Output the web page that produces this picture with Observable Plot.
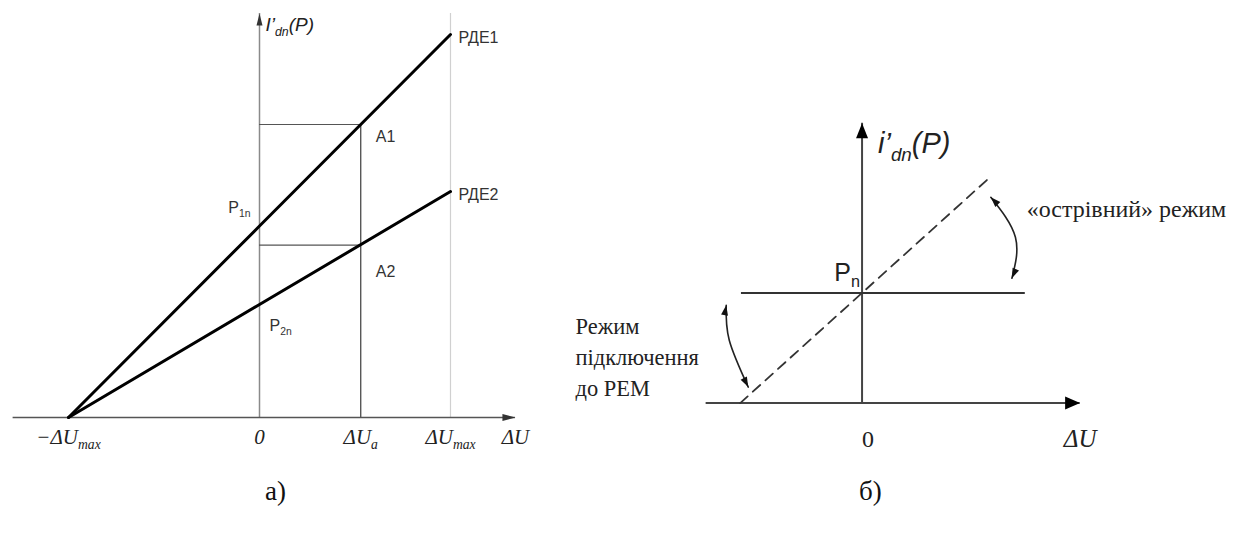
<!DOCTYPE html>
<html><head><meta charset="utf-8">
<script src="https://cdn.jsdelivr.net/npm/d3@7"></script>
<script src="https://cdn.jsdelivr.net/npm/@observablehq/plot@0.6"></script>
<style>
body{margin:0;background:#fff;}
#fig{position:relative;width:1249px;height:543px;overflow:hidden;background:#fff}
#a{position:absolute;left:0;top:0}
#b{position:absolute;left:550px;top:100px}
.cap{position:absolute;font-family:"Liberation Serif",serif;font-size:27px;top:476px;color:#111}
</style></head><body>
<div id="fig"><div id="a"></div><div id="b"></div>
<div class="cap" style="left:265px">а)</div><div class="cap" style="left:859px">б)</div></div>
<script>
// ---------- Panel а) data ----------
const uA = [-1, 0, 1];                       // −ΔUmax, 0, ΔUmax
const rde1 = [0, 1, 2];                      // РДЕ1 (P1n = 1 at ΔU = 0)
const rde2 = [0, 0.59, 1.18];                // РДЕ2 (P2n = 0.59 at ΔU = 0)
const seriesNamesA = ["РДЕ1", "РДЕ2"];
const Ua = 0.53;                             // ΔUa
const pointValuesA = [1.53, 0.90];           // A1, A2
const pointNamesA = ["A1", "A2"];
const interceptNamesA = ["P_{1n}", "P_{2n}"];
const xTicksA = [-1, 0, 0.53, 1, 1.34];
const xTickLabelsA = ["−ΔU_{max}", "0", "ΔU_{a}", "ΔU_{max}", "ΔU"];
const axisExtentA = {xMin: -1.29, xMax: 1.34, yMax: 2.11};

// ---------- Panel б) data ----------
const uDashB = [-1, 1.03];
const dashB = [0, 2.03];
const PnB = 1;
const PnSpanB = [-0.99, 1.34];
const axisExtentB = {xMin: -1.28, xMax: 1.79, yMax: 2.54};
const arcUpper = [[1.057, 1.868], [1.259, 1.505], [1.23, 1.133]];
const arcLower = [[-1.115, 0.888], [-1.09, 0.571], [-0.934, 0.145]];
const noteUpper = {x: 1.352, y: 1.686, text: "«острівний» режим"};
const noteLower = {x: -2.352, y: 0.83, text: "Режим\nпідключення\nдо РЕМ"};

function arrowHead(L, W) {
  return {draw(ctx) { ctx.moveTo(0, 0); ctx.lineTo(-W / 2, L); ctx.lineTo(W / 2, L); ctx.closePath(); }};
}
function subify(root) {
  d3.select(root).selectAll("text").each(function () {
    const t = this.textContent;
    if (!t.includes("_{")) return;
    const fs = parseFloat(getComputedStyle(this).fontSize);
    const parts = t.split(/(_\{[^}]*\})/).filter(s => s.length);
    this.textContent = "";
    let shifted = false;
    for (const p of parts) {
      const ts = d3.select(this).append("tspan");
      if (p.startsWith("_{")) { ts.text(p.slice(2, -1)).attr("font-size", fs * 0.65).attr("dy", fs * 0.26); shifted = true; }
      else { ts.text(p); if (shifted) { ts.attr("dy", -fs * 0.26); shifted = false; } }
    }
  });
}

// ---------- Panel а) ----------
const xA = {domain: [-1, 1], range: [68, 450], axis: null};
const yA = {domain: [0, 2], range: [417, 34], axis: null};
const linesA = [
  ...uA.map((u, i) => ({u, v: rde1[i], s: seriesNamesA[0]})),
  ...uA.map((u, i) => ({u, v: rde2[i], s: seriesNamesA[1]}))
];
const serif = "Liberation Serif";
const sans = "Liberation Sans";
const labelA = {lineAnchor: "bottom", textAnchor: "start", fontFamily: sans, fontSize: 16, fill: "#333"};
const plotA = Plot.plot({
  width: 540, height: 460, x: xA, y: yA,
  style: {background: "transparent", overflow: "visible"},
  marks: [
    Plot.ruleX([1], {y1: 0, y2: axisExtentA.yMax, stroke: "#d0d0d0", strokeWidth: 1.2}),
    Plot.ruleX([0], {y1: 0, y2: axisExtentA.yMax, stroke: "#8a8a8a", strokeWidth: 1.5}),
    Plot.ruleX([Ua], {y1: 0, y2: pointValuesA[0], stroke: "#4a4a4a", strokeWidth: 1.3}),
    Plot.ruleY(pointValuesA, {x1: 0, x2: Ua, stroke: "#555", strokeWidth: 1.2}),
    Plot.ruleY([0], {x1: axisExtentA.xMin, x2: axisExtentA.xMax, stroke: "#555", strokeWidth: 1.5}),
    Plot.line(linesA, {x: "u", y: "v", z: "s", stroke: "#000", strokeWidth: 3}),
    Plot.dot([{x: axisExtentA.xMax, y: 0}], {x: "x", y: "y", symbol: arrowHead(13, 7), r: 4, rotate: 90, fill: "#333", stroke: "none"}),
    Plot.dot([{x: 0, y: axisExtentA.yMax}], {x: "x", y: "y", symbol: arrowHead(12, 6), r: 4, fill: "#333", stroke: "none"}),
    Plot.text([{x: 0, y: axisExtentA.yMax}], {x: "x", y: "y", text: () => "I’_{dn}(P)", dx: 6, dy: 18, lineAnchor: "bottom", textAnchor: "start", fontFamily: sans, fontStyle: "italic", fontSize: 19, fill: "#222"}),
    Plot.text(seriesNamesA, {...labelA, x: () => 1, y: (d, i) => [rde1, rde2][i][2], text: d => d, dx: 8, dy: 8}),
    Plot.text([pointNamesA[0]], {...labelA, x: () => Ua, y: () => pointValuesA[0], text: d => d, dx: 15, dy: 17}),
    Plot.text([pointNamesA[1]], {...labelA, x: () => Ua, y: () => pointValuesA[1], text: d => d, dx: 15, dy: 32}),
    Plot.text([interceptNamesA[0]], {...labelA, x: () => 0, y: () => rde1[1], text: d => d, dx: -9, dy: -13, textAnchor: "end"}),
    Plot.text([interceptNamesA[1]], {...labelA, x: () => 0, y: () => rde2[1], text: d => d, dx: 10, dy: 26}),
    Plot.text(xTicksA, {x: d => d, y: () => 0, text: (d, i) => xTickLabelsA[i], dy: 26, lineAnchor: "bottom", textAnchor: "middle", fontFamily: serif, fontStyle: "italic", fontSize: 21, fill: "#222"})
  ]
});

// ---------- Panel б) ----------
const xB = {domain: [-1, 1], range: [190, 434], axis: null};
const yB = {domain: [0, 2], range: [303, 82.4], axis: null};
const sx = Plot.scale({x: {domain: xB.domain, range: xB.range}});
const sy = Plot.scale({y: {domain: yB.domain, range: yB.range}});
function arcHeads(arc) {
  const P = arc.map(([u, v]) => [sx.apply(u), sy.apply(v)]);
  const [A, M, B] = P;
  const dA = [3 * A[0] - 4 * M[0] + B[0], 3 * A[1] - 4 * M[1] + B[1]];
  const dB = [3 * B[0] - 4 * M[0] + A[0], 3 * B[1] - 4 * M[1] + A[1]];
  const ang = d => Math.atan2(d[0], -d[1]) * 180 / Math.PI;
  return [{x: arc[0][0], y: arc[0][1], r: ang(dA)}, {x: arc[2][0], y: arc[2][1], r: ang(dB)}];
}
const heads = [...arcHeads(arcUpper), ...arcHeads(arcLower)];
const arcs = [
  ...arcUpper.map(([x, y]) => ({x, y, k: "u"})),
  ...arcLower.map(([x, y]) => ({x, y, k: "l"}))
];
const plotB = Plot.plot({
  width: 700, height: 360, x: xB, y: yB,
  style: {background: "transparent", overflow: "visible"},
  marks: [
    Plot.ruleX([0], {y1: 0, y2: axisExtentB.yMax, stroke: "#444", strokeWidth: 2}),
    Plot.ruleY([0], {x1: axisExtentB.xMin, x2: axisExtentB.xMax, stroke: "#444", strokeWidth: 2}),
    Plot.ruleY([PnB], {x1: PnSpanB[0], x2: PnSpanB[1], stroke: "#333", strokeWidth: 2}),
    Plot.line(uDashB.map((u, i) => ({u, v: dashB[i]})), {x: "u", y: "v", stroke: "#333", strokeWidth: 1.8, strokeDasharray: "10,7"}),
    Plot.line(arcs, {x: "x", y: "y", z: "k", curve: "natural", stroke: "#222", strokeWidth: 1.6}),
    Plot.dot(heads, {x: "x", y: "y", rotate: "r", symbol: arrowHead(10, 7), r: 4, fill: "#111", stroke: "none"}),
    Plot.dot([{x: axisExtentB.xMax, y: 0}], {x: "x", y: "y", symbol: arrowHead(15, 13), r: 4, rotate: 90, fill: "#000", stroke: "none"}),
    Plot.dot([{x: 0, y: axisExtentB.yMax}], {x: "x", y: "y", symbol: arrowHead(15, 12), r: 4, fill: "#000", stroke: "none"}),
    Plot.text([{x: 0, y: axisExtentB.yMax}], {x: "x", y: "y", text: () => "i’_{dn}(P)", dx: 16, dy: 30, lineAnchor: "bottom", textAnchor: "start", fontFamily: sans, fontStyle: "italic", fontSize: 29, fill: "#222"}),
    Plot.text([{x: 0, y: PnB}], {x: "x", y: "y", text: () => "P_{n}", dx: -2, dy: -12, lineAnchor: "bottom", textAnchor: "end", fontFamily: sans, fontSize: 25, fill: "#222"}),
    Plot.text([0], {x: d => d, y: () => 0, text: () => "0", dx: 6, dy: 44, lineAnchor: "bottom", textAnchor: "middle", fontFamily: serif, fontSize: 24, fill: "#222"}),
    Plot.text([axisExtentB.xMax], {x: d => d, y: () => 0, text: () => "ΔU", dy: 44, lineAnchor: "bottom", textAnchor: "middle", fontFamily: serif, fontStyle: "italic", fontSize: 25, fill: "#222"}),
    Plot.text([noteUpper], {x: "x", y: "y", text: "text", lineAnchor: "bottom", textAnchor: "start", fontFamily: serif, fontSize: 24, fill: "#222"}),
    Plot.text([noteLower], {x: "x", y: "y", text: "text", lineAnchor: "top", textAnchor: "start", lineHeight: 1.38, fontFamily: serif, fontSize: 22.5, fill: "#222"})
  ]
});

document.getElementById("a").appendChild(plotA);
document.getElementById("b").appendChild(plotB);
subify(plotA);
subify(plotB);
</script>
</body></html>
